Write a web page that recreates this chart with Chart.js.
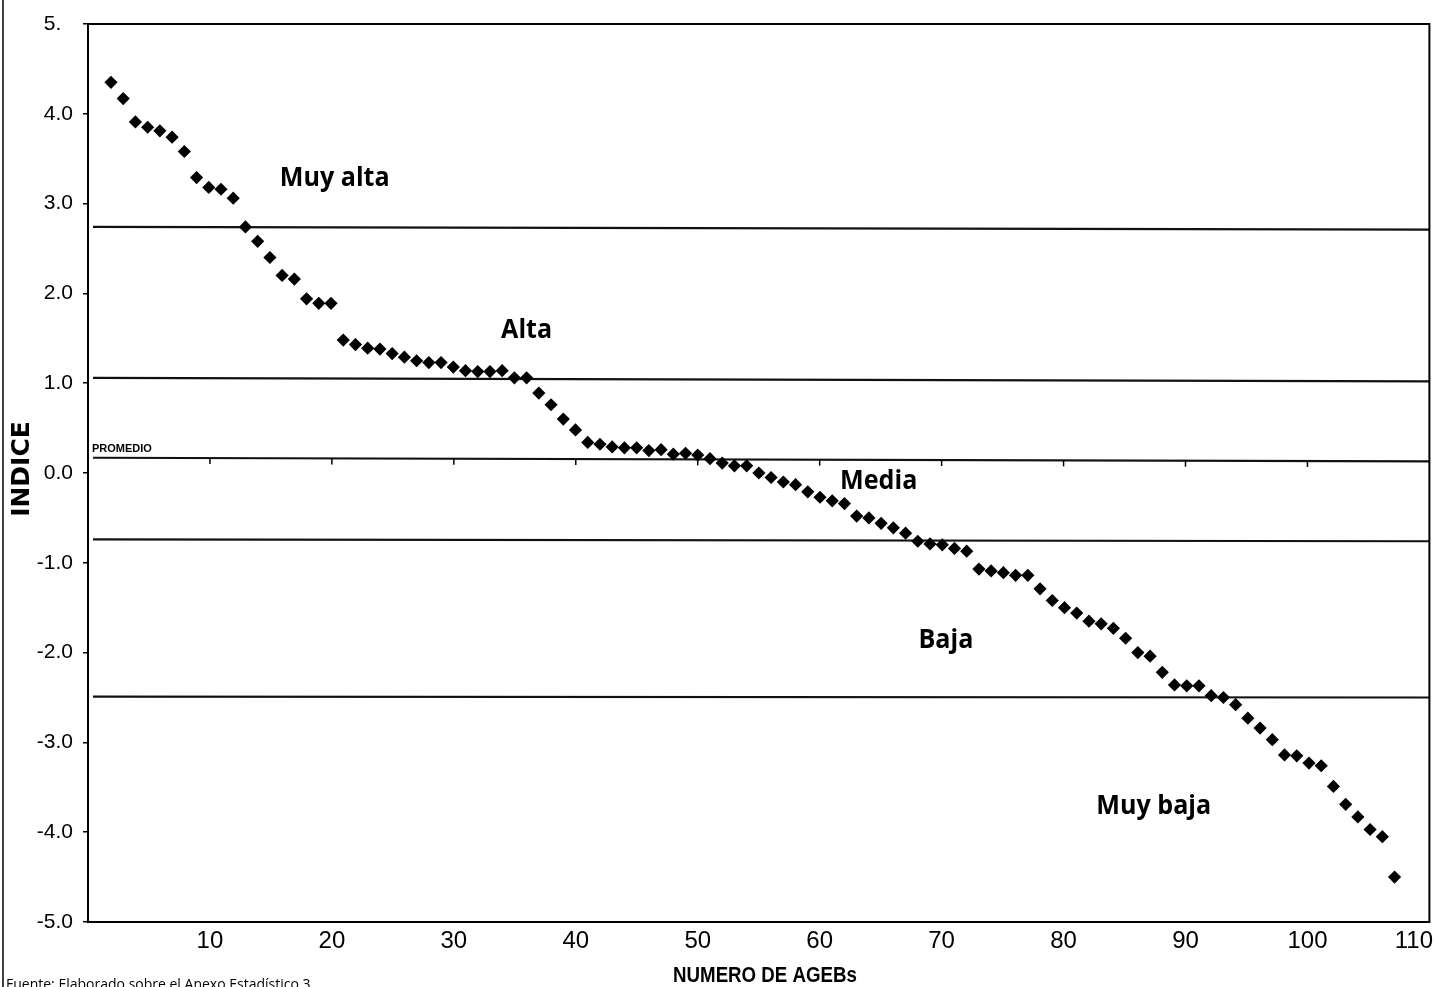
<!DOCTYPE html>
<html>
<head>
<meta charset="utf-8">
<script src="https://cdn.jsdelivr.net/npm/chart.js@4/dist/chart.umd.min.js"></script>
<style>
html,body{margin:0;padding:0;background:#fff;}
#wrap{width:1436px;height:987px;position:relative;overflow:hidden;}
</style>
</head>
<body>
<div id="wrap"><canvas id="c" width="1436" height="987"></canvas></div>
<script>
// ---- data ----
const agebNumber = [
  1,2,3,4,5,6,7,8,9,10,11,12,13,14,15,16,17,18,19,20,
  21,22,23,24,25,26,27,28,29,30,31,32,33,34,35,36,37,38,39,40,
  41,42,43,44,45,46,47,48,49,50,51,52,53,54,55,56,57,58,59,60,
  61,62,63,64,65,66,67,68,69,70,71,72,73,74,75,76,77,78,79,80,
  81,82,83,84,85,86,87,88,89,90,91,92,93,94,95,96,97,98,99,100,
  101,102,103,104,105,106
];
const indice = [
  4.35,4.17,3.91,3.85,3.81,3.74,3.58,3.29,3.18,3.16,
  3.06,2.74,2.58,2.40,2.20,2.16,1.94,1.89,1.89,1.48,
  1.43,1.39,1.38,1.33,1.29,1.25,1.23,1.23,1.18,1.14,
  1.13,1.13,1.14,1.06,1.06,0.89,0.76,0.60,0.48,0.34,
  0.32,0.29,0.28,0.28,0.25,0.26,0.21,0.22,0.20,0.16,
  0.11,0.08,0.08,0.00,-0.05,-0.10,-0.13,-0.21,-0.27,-0.31,
  -0.34,-0.48,-0.50,-0.56,-0.61,-0.67,-0.76,-0.79,-0.80,-0.84,
  -0.87,-1.07,-1.09,-1.11,-1.14,-1.14,-1.29,-1.42,-1.50,-1.56,
  -1.65,-1.68,-1.73,-1.84,-2.00,-2.04,-2.22,-2.36,-2.37,-2.37,
  -2.48,-2.50,-2.58,-2.73,-2.84,-2.97,-3.14,-3.15,-3.23,-3.26,
  -3.49,-3.69,-3.83,-3.97,-4.05,-4.50
];
// boundary lines (value at left end, value at right end)
const boundaryNames = ['Muy alta / Alta','Alta / Media','PROMEDIO','Media / Baja','Baja / Muy baja'];
const boundaryLeft  = [2.74, 1.06, 0.17, -0.74, -2.49];
const boundaryRight = [2.71, 1.02, 0.13, -0.76, -2.50];
const regionNames = ['Muy alta','Alta','Media','Baja','Muy baja'];
const xTickLabels = [10,20,30,40,50,60,70,80,90,100,110];
const yTickLabels = [-5,-4,-3,-2,-1,0,1,2,3,4,5];

// ---- layout / style ----
const X_MIN = -0.88, X_MAX = 108.85, LINE_X0 = -0.47;
const regionAnchors = [[19.3,3.28],[35.0,1.59],[63.8,-0.09],[69.3,-1.86],[86.3,-3.71]];

const datasets = [{
  label: 'AGEBs',
  data: agebNumber.map((n,i)=>({x:n, y:indice[i]})),
  pointStyle: 'rectRot',
  pointRadius: 6.6,
  backgroundColor: '#000',
  borderColor: '#000',
  borderWidth: 0,
  showLine: false,
  order: 1,
  xAxisID: 'x', yAxisID: 'y'
}];
boundaryNames.forEach((nm,i)=>{
  datasets.push({
    label: nm, type: 'line',
    data: [{x:LINE_X0, y:boundaryLeft[i]},{x:X_MAX, y:boundaryRight[i]}],
    borderColor: '#111', borderWidth: 2.2, pointRadius: 0, showLine: true,
    order: 2, xAxisID: 'x', yAxisID: 'y'
  });
});

function lineValueAt(i, xv){
  const t = (xv - LINE_X0)/(X_MAX - LINE_X0);
  return boundaryLeft[i] + t*(boundaryRight[i]-boundaryLeft[i]);
}

function squeezedText(c, txt, cx, cy, sx){
  c.save();
  c.translate(cx, cy);
  c.scale(sx, 1);
  c.fillText(txt, 0, 0);
  c.restore();
}

const deco = {
  id: 'deco',
  beforeDraw(chart){
    const c = chart.ctx;
    c.save(); c.fillStyle = '#fff'; c.fillRect(0,0,chart.width,chart.height); c.restore();
  },
  afterDraw(chart){
    const c = chart.ctx, a = chart.chartArea;
    const xs = chart.scales.x, x2 = chart.scales.x2, ys = chart.scales.y;
    c.save();
    // plot frame
    c.strokeStyle = '#000'; c.lineWidth = 2;
    c.strokeRect(a.left, a.top, a.right-a.left, a.bottom-a.top);
    // left page rule
    c.lineWidth = 1.5; c.beginPath(); c.moveTo(3,0); c.lineTo(3,chart.height); c.stroke();
    // tick marks hanging from the PROMEDIO line
    const pi = boundaryNames.indexOf('PROMEDIO');
    c.lineWidth = 1.5;
    xTickLabels.forEach(v=>{
      const px = x2.getPixelForValue(v);
      if (px >= a.right-1) return;
      const py = ys.getPixelForValue(lineValueAt(pi, xs.getValueForPixel(px)));
      c.beginPath(); c.moveTo(px, py); c.lineTo(px, py+6); c.stroke();
    });
    // x tick labels
    c.fillStyle = '#000';
    c.font = '24px "Liberation Sans", Arial, sans-serif';
    c.textBaseline = 'middle';
    xTickLabels.forEach(v=>{
      let px = x2.getPixelForValue(v);
      const w = c.measureText(String(v)).width;
      c.textAlign = 'left';
      let left = px - w/2;
      if (left + w > chart.width - 3) left = chart.width - 3 - w;
      c.fillText(String(v), left, 941);
    });
    // axis titles
    c.textAlign = 'center';
    c.font = 'bold 22px "Liberation Sans Narrow", "Liberation Sans", Arial, sans-serif';
    squeezedText(c, 'NUMERO DE AGEBs', 765, 976, 0.85);
    c.save();
    c.translate(22, 469); c.rotate(-Math.PI/2);
    c.font = 'bold 25px "DejaVu Sans", Verdana, sans-serif';
    c.fillText('INDICE', 0, 0);
    c.restore();
    // PROMEDIO label
    c.textAlign = 'left'; c.textBaseline = 'alphabetic';
    c.font = 'bold 11px "Liberation Sans", Arial, sans-serif';
    c.fillText('PROMEDIO', 92, 452);
    // region labels
    c.textAlign = 'center'; c.textBaseline = 'middle';
    c.font = 'bold 27px "Open Sans", sans-serif';
    regionNames.forEach((nm,i)=>{
      squeezedText(c, nm, xs.getPixelForValue(regionAnchors[i][0]), ys.getPixelForValue(regionAnchors[i][1]), 0.93);
    });
    // source note (cut by the page edge)
    c.textAlign = 'left'; c.textBaseline = 'top';
    c.font = '14px "Open Sans", sans-serif';
    c.fillText('Fuente: Elaborado sobre el Anexo Estadístico 3', 6, 978);
    c.restore();
  }
};

new Chart(document.getElementById('c'), {
  type: 'scatter',
  data: { datasets },
  options: {
    responsive: false,
    animation: false,
    devicePixelRatio: 1,
    layout: { padding: { left: 0, top: 24, right: 6, bottom: 0 } },
    plugins: { legend: { display: false }, tooltip: { enabled: false } },
    scales: {
      x: { type: 'linear', min: X_MIN, max: X_MAX, display: false },
      x2: {
        type: 'linear', position: 'bottom', min: 0, max: 110,
        ticks: { display: false, stepSize: 10 },
        grid: { display: false }, border: { display: false },
        afterFit: s => { s.height = 65; s.paddingLeft = 0; s.paddingRight = 0; }
      },
      y: {
        type: 'linear', min: -5, max: 5,
        afterBuildTicks: s => { s.ticks = yTickLabels.map(v=>({value:v})); },
        ticks: {
          color: '#000', padding: 10,
          font: { family: '"Liberation Sans", Arial, sans-serif', size: 21 },
          callback: v => v === 5 ? '5.\u2007' : Number(v).toFixed(1)
        },
        grid: { drawOnChartArea: false, tickLength: 5, color: '#000', lineWidth: 1.5 },
        border: { display: true, color: '#000', width: 2 },
        afterFit: s => { s.width = 88; }
      }
    }
  },
  plugins: [deco]
});
</script>
</body>
</html>
